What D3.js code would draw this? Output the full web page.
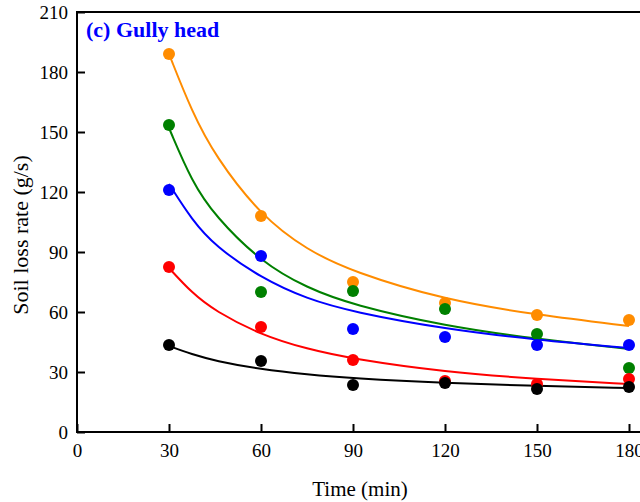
<!DOCTYPE html>
<html>
<head>
<meta charset="utf-8">
<script src="https://cdn.jsdelivr.net/npm/d3@7"></script>
<style>
  body { margin: 0; background: #fff; }
  svg text { font-family: "Liberation Serif", "Times New Roman", serif; }
</style>
</head>
<body>
<div id="chart"></div>
<script>
// measured times (min)
var times = [30, 60, 90, 120, 150, 180];
// soil loss rate (g/s), one array per series
var orangeVals = [189, 108, 75, 64.5, 58.5, 56];
var greenVals  = [153.5, 70, 70.5, 61.5, 49, 32];
var blueVals   = [121, 88, 51.5, 47.5, 43.5, 43.5];
var redVals    = [82.5, 52.5, 36, 25.5, 24, 26.5];
var blackVals  = [43.5, 35.5, 23.5, 24.5, 21.5, 22.5];

// fitted curves
var fitTimes  = [30, 37.5, 45, 60, 75, 90, 120, 150, 180];
var orangeFit = [189, 160, 138, 108, 91, 80, 66, 58.5, 53];
var greenFit  = [152, 125, 108, 85, 72, 63.5, 53, 46.5, 41.5];
var blueFit   = [124, 106, 93, 77, 66.5, 60, 51.5, 46, 42];
var redFit    = [82, 69.5, 60.5, 48.5, 41.5, 36.5, 30, 26.5, 24];
var blackFit  = [43, 38.8, 35.6, 31.3, 28.7, 26.8, 24.4, 23, 22];

var xTicks = [0, 30, 60, 90, 120, 150, 180];
var yTicks = [0, 30, 60, 90, 120, 150, 180, 210];

var series = [
  { name: "orange", color: "#ff8c00", vals: orangeVals, fit: orangeFit },
  { name: "green",  color: "#008000", vals: greenVals,  fit: greenFit },
  { name: "blue",   color: "#0000ff", vals: blueVals,   fit: blueFit },
  { name: "red",    color: "#ff0000", vals: redVals,    fit: redFit },
  { name: "black",  color: "#000000", vals: blackVals,  fit: blackFit }
];

var W = 640, H = 502;
var padL = 77, padT = 12, padB = 432;

var svg = d3.select("#chart").append("svg")
  .attr("width", W).attr("height", H);

var x = d3.scaleLinear().domain([0, 180]).range([padL, 629]);
var y = d3.scaleLinear().domain([0, 210]).range([padB, padT]);

// x axis (ticks pointing inward)
var xAxis = svg.append("g")
  .attr("transform", "translate(0," + padB + ")")
  .call(d3.axisBottom(x).tickValues(xTicks).tickSizeInner(-8).tickSizeOuter(0).tickPadding(12));
xAxis.select(".domain").remove();
xAxis.selectAll("line").attr("stroke-width", 2);
xAxis.selectAll("text").attr("font-size", 19).attr("fill", "#000");

// y axis
var yAxis = svg.append("g")
  .attr("transform", "translate(" + padL + ",0)")
  .call(d3.axisLeft(y).tickValues(yTicks).tickSizeInner(-8).tickSizeOuter(0).tickPadding(9));
yAxis.select(".domain").remove();
yAxis.selectAll("line").attr("stroke-width", 2);
yAxis.selectAll("text").attr("font-size", 19).attr("fill", "#000");

// frame
svg.append("line").attr("x1", padL).attr("x2", W).attr("y1", padB).attr("y2", padB)
  .attr("stroke", "#000").attr("stroke-width", 2);
svg.append("line").attr("x1", padL).attr("x2", W).attr("y1", padT).attr("y2", padT)
  .attr("stroke", "#000").attr("stroke-width", 2);
svg.append("line").attr("x1", padL).attr("x2", padL).attr("y1", padT - 1).attr("y2", padB + 1)
  .attr("stroke", "#000").attr("stroke-width", 2);

// fitted lines
var line = d3.line()
  .x(function(d) { return x(d[0]); })
  .y(function(d) { return y(d[1]); })
  .curve(d3.curveBasis);

series.forEach(function(s) {
  svg.append("path")
    .datum(d3.zip(fitTimes, s.fit))
    .attr("d", line)
    .attr("fill", "none")
    .attr("stroke", s.color)
    .attr("stroke-width", 2);
});

// points
series.forEach(function(s) {
  svg.append("g").selectAll("circle")
    .data(d3.zip(times, s.vals))
    .enter().append("circle")
    .attr("cx", function(d) { return x(d[0]); })
    .attr("cy", function(d) { return y(d[1]); })
    .attr("r", 6)
    .attr("fill", s.color);
});

// labels
svg.append("text")
  .attr("x", 86).attr("y", 37)
  .attr("font-size", 22).attr("font-weight", "bold").attr("fill", "#0000ff")
  .text("(c) Gully head");

svg.append("text")
  .attr("x", 360).attr("y", 496)
  .attr("text-anchor", "middle").attr("font-size", 21)
  .text("Time (min)");

svg.append("text")
  .attr("transform", "translate(28,235) rotate(-90)")
  .attr("text-anchor", "middle").attr("font-size", 22)
  .text("Soil loss rate (g/s)");
</script>
</body>
</html>
